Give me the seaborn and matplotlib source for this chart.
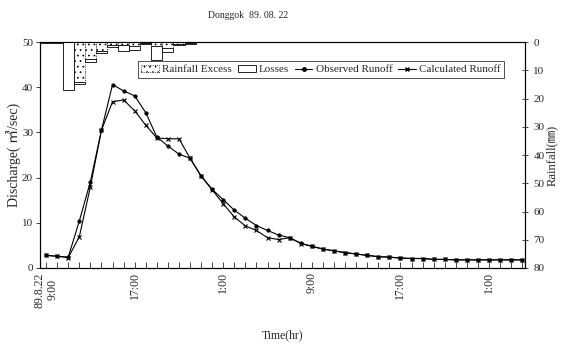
import numpy as np
import pandas as pd
import matplotlib
matplotlib.use("Agg")
import matplotlib.pyplot as plt
import matplotlib.transforms as mtransforms
import seaborn as sns
from matplotlib.patches import Patch
from matplotlib.lines import Line2D

# ---- data ----
hours = list(range(44))  # hourly from 89.8.22 9:00
observed = [2.8, 2.6, 2.4, 10.4, 19.1, 30.5, 40.6, 39.2, 38.1, 34.4, 29.0, 27.0, 25.2, 24.3,
            20.4, 17.4, 15.1, 12.8, 11.0, 9.4, 8.3, 7.3, 6.7, 5.5, 4.8, 4.2, 3.8, 3.4, 3.1, 2.8,
            2.5, 2.4, 2.2, 2.1, 2.1, 1.9, 1.9, 1.8, 1.8, 1.8, 1.8, 1.8, 1.8, 1.8]
calculated = [2.8, 2.6, 2.3, 6.9, 18.0, 30.5, 36.8, 37.2, 34.8, 31.6, 28.8, 28.6, 28.6, 24.3,
              20.3, 17.3, 14.2, 11.3, 9.3, 8.3, 6.7, 6.3, 6.7, 5.4, 4.8, 4.2, 3.8, 3.4, 3.1, 2.8,
              2.5, 2.4, 2.2, 2.1, 2.1, 1.9, 1.9, 1.8, 1.8, 1.8, 1.8, 1.8, 1.8, 1.8]
rain_hours = list(range(14))
rain_excess = [0.0, 0.0, 0.0, 14.0, 6.0, 3.0, 1.0, 1.0, 1.5, 0.3, 1.5, 2.0, 0.5, 0.3]
rain_losses = [0.4, 0.4, 17.0, 1.0, 1.0, 1.0, 0.6, 2.2, 1.3, 0.3, 5.0, 1.5, 0.5, 0.3]
tick_pos = [0, 8, 16, 24, 32, 40]
tick_labels = ["89.8.22\n9:00", "17:00", "1:00", "9:00", "17:00", "1:00"]

sns.set_theme(style="white")
plt.rcParams['font.family'] = ['Liberation Serif', 'Noto Sans CJK KR', 'DejaVu Sans']
plt.rcParams['hatch.linewidth'] = 0.5

fig = plt.figure(figsize=(5.69, 3.48), dpi=100)
ax = fig.add_axes([0.0703, 0.2299, 0.8524, 0.6491])

df = pd.DataFrame({"hour": hours, "Observed": observed, "Calculated": calculated})
sns.lineplot(data=df, x="hour", y="Observed", ax=ax, color="black", linewidth=0.8,
             marker="o", markersize=2.5, markeredgewidth=0.5, markerfacecolor="black",
             markeredgecolor="black")
sns.lineplot(data=df, x="hour", y="Calculated", ax=ax, color="black", linewidth=0.8,
             marker="x", markersize=3, markeredgewidth=0.8, markeredgecolor="black")

ax.set_xlim(-0.55, 43.25)
ax.set_ylim(0, 50)
ax.set_yticks([0, 10, 20, 30, 40, 50])
ax.set_xticks(hours, minor=True)
ax.set_xticks(tick_pos)
ax.set_xticklabels(tick_labels, rotation=90, fontsize=8.5, va="top", ha="center")
first = ax.get_xticklabels()[0]
first.set_transform(first.get_transform() + mtransforms.ScaledTranslation(5 / 100, 0, fig.dpi_scale_trans))
ax.tick_params(axis="x", which="both", direction="in", length=4, width=0.6, bottom=True, pad=3)
ax.tick_params(axis="y", direction="out", length=3, width=0.6, left=True, labelsize=8, pad=2)
ax.set_xlabel("Time(hr)", fontsize=8.5, labelpad=16)
ax.set_ylabel("Discharge( ㎥/sec)", fontsize=10, labelpad=1)

ax2 = ax.twinx()
ax2.bar(rain_hours, rain_excess, width=1.0, color="white", edgecolor="black",
        linewidth=0.6, linestyle=":", hatch="...")
ax2.bar(rain_hours, rain_losses, bottom=rain_excess, width=1.0, color="white",
        edgecolor="black", linewidth=0.6)
ax2.set_ylim(80, 0)
ax2.set_yticks(range(0, 81, 10))
ax2.tick_params(axis="y", direction="inout", length=4, width=0.6, right=True, labelsize=8, pad=4)
ax2.set_ylabel("Rainfall(㎜)", fontsize=9, rotation=90, labelpad=1)
ax2.grid(False)
ax.grid(False)

for a in (ax, ax2):
    for s in a.spines.values():
        s.set_color("black")
        s.set_linewidth(0.8)

handles = [
    Patch(facecolor="white", edgecolor="black", hatch="...", linestyle=":", linewidth=0.6),
    Patch(facecolor="white", edgecolor="black", linewidth=0.6),
    Line2D([0], [0], color="black", lw=0.8, marker="o", markersize=2.5),
    Line2D([0], [0], color="black", lw=0.8, marker="x", markersize=3),
]
labels = ["Rainfall Excess", "Losses", "Observed Runoff", "Calculated Runoff"]
leg = ax2.legend(handles, labels, loc="upper right", bbox_to_anchor=(0.957, 0.915), ncol=4,
                 fontsize=8, frameon=True, fancybox=False, handlelength=1.6, handletextpad=0.3,
                 columnspacing=0.5, borderpad=0.3, borderaxespad=0)
leg.get_frame().set_edgecolor("black")
leg.get_frame().set_linewidth(0.6)

fig.text(0.436, 1 - 15 / 348, "Donggok  89. 08. 22", ha="center", va="center", fontsize=7)

fig.savefig("out.png", dpi=100)
